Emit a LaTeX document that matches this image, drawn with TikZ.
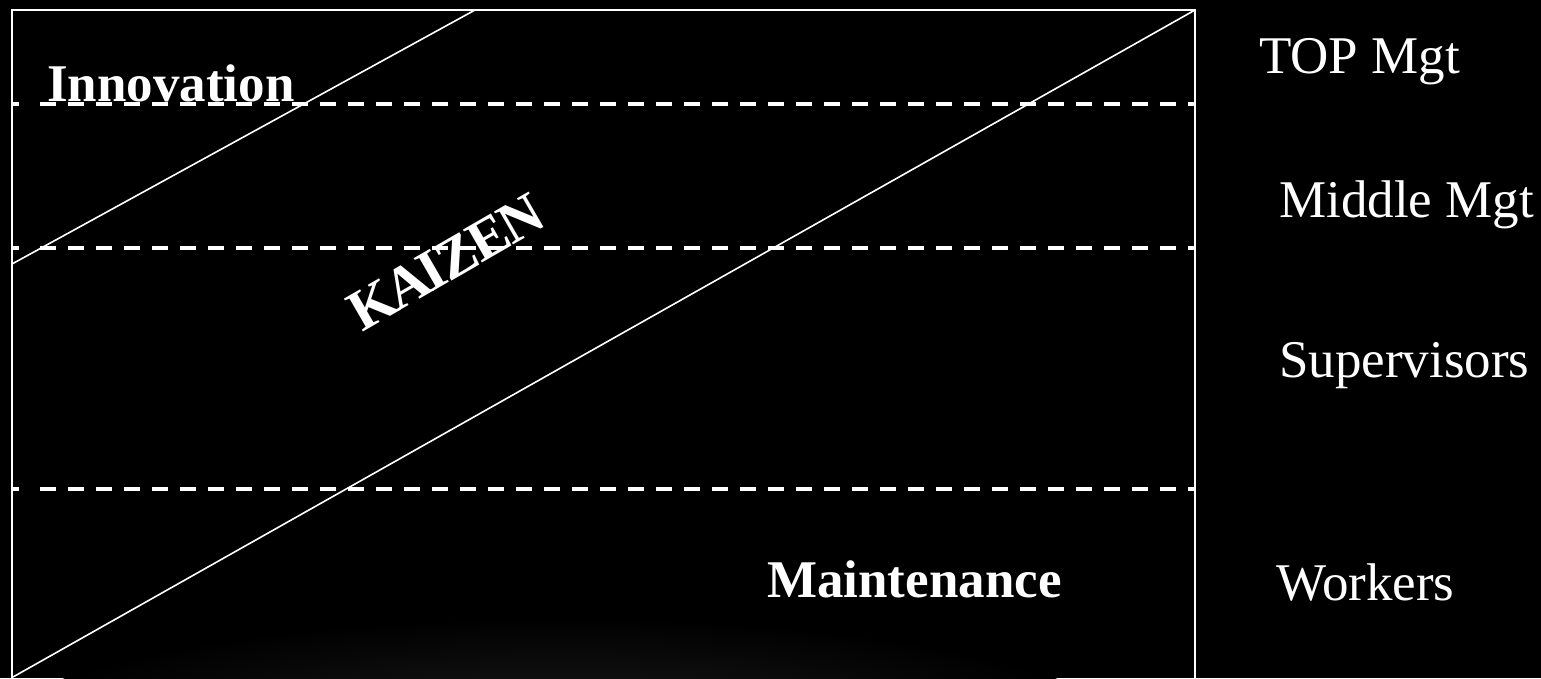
\documentclass[tikz,border=0pt]{standalone}
\usepackage{fontspec}
\setmainfont{Liberation Serif}
\begin{document}
\begin{tikzpicture}[x=1pt,y=-1pt,
  frame/.style={white,line width=2pt},
  diag/.style={white,line width=1.6pt},
  level/.style={white,line width=4pt,dash pattern=on 16pt off 12pt},
  levelbit/.style={white,line width=4pt},
  boldlbl/.style={white,inner sep=0pt,anchor=base west,font=\fontsize{53}{60}\selectfont\bfseries},
  rolelbl/.style={white,inner sep=0pt,anchor=base west,font=\fontsize{53}{60}\selectfont}]
\fill[black] (0,0) rectangle (1541,678);
\useasboundingbox (0,0) rectangle (1541,678);
% faint glow at bottom
\shade[inner color=white!10!black,outer color=black] (560,718) ellipse [x radius=540,y radius=100];
% frame
\coordinate (tl) at (12,10);
\coordinate (tr) at (1195,10);
\coordinate (bl) at (12,690);
\coordinate (br) at (1195,690);
\draw[frame] (bl) -- (tl) -- (tr) -- (br);
% dashed levels
\foreach \yy/\nm in {104/a,248/b,489/c}{
  \coordinate (\nm s) at (40,\yy);
  \coordinate (\nm e) at (1195,\yy);
  \coordinate (\nm l) at (12,\yy);
  \coordinate (\nm m) at (19,\yy);
  \draw[level] (\nm s) -- (\nm e);
  \draw[levelbit] (\nm l) -- (\nm m);
}
% diagonals
\coordinate (d1a) at (12,264);
\coordinate (d1b) at (475,10);
\coordinate (d2a) at (13,677);
\coordinate (d2b) at (1195,10);
\draw[diag] (d1a) -- (d1b);
\draw[diag] (d2a) -- (d2b);
% labels
\node[boldlbl] (innov) at (47,101) {Innovation};
\node[white,inner sep=0pt,rotate=30,font=\fontsize{58}{60}\selectfont\bfseries] (kaizen) at (446,262) {K\kern-3ptA\kern-4ptI\kern-2ptZ\kern-2ptE\kern-2ptN};
\node[boldlbl] (maint) at (767,597) {Maintenance};
\node[rolelbl] (top) at (1259,73) {TOP Mgt};
\node[rolelbl] (mid) at (1279,217) {Middle Mgt};
\node[rolelbl] (sup) at (1279,377) {Supervisors};
\node[rolelbl] (work) at (1276,600) {Workers};
\end{tikzpicture}
\end{document}
